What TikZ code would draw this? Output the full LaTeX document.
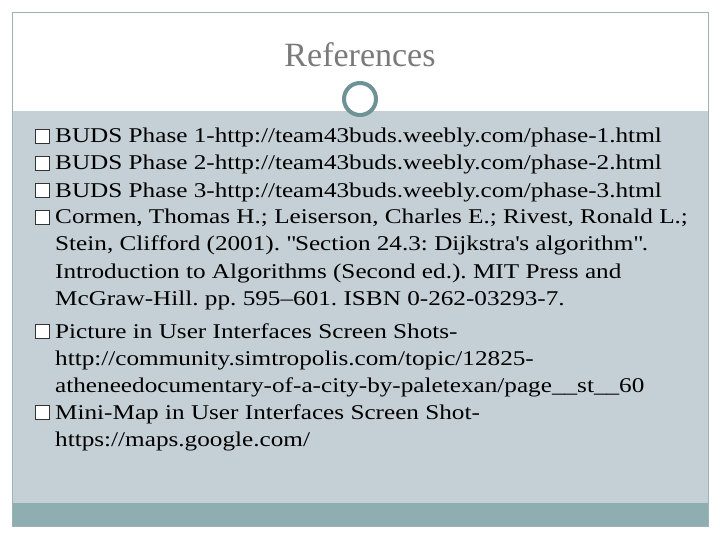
\documentclass[tikz,border=0pt]{standalone}
\usepackage{fontspec}
\setmainfont[FakeStretch=1.2]{Liberation Serif}
\newfontfamily\titlefont{Liberation Serif}
\definecolor{bodybg}{HTML}{C5D0D6}
\definecolor{barc}{HTML}{8EAEB2}
\definecolor{framec}{HTML}{9EB2B4}
\definecolor{ringc}{HTML}{6F9296}
\definecolor{titlec}{HTML}{7A7A7A}
\tikzset{ln/.style={anchor=base west,inner sep=0pt,font=\fontsize{21}{21}\selectfont\frenchspacing},
bul/.style={draw=black!80,line width=0.6pt,fill=white,minimum size=14pt,inner sep=0pt}}
\begin{document}
\begin{tikzpicture}[x=1pt,y=-1pt]
\useasboundingbox (0,0) rectangle (720,540);
\fill[white] (0,0) rectangle (720,540);
\fill[bodybg] (12,111) rectangle (708,503);
\fill[barc] (12,503) rectangle (708,526);
\draw[framec,line width=0.8pt] (12,12) rectangle (708,526);
\node[font=\titlefont\fontsize{34}{34}\selectfont,text=titlec] (t) at (360,55) {References};
\node[circle,draw=ringc,line width=4pt,fill=white,minimum size=32pt] (c) at (360,99) {};
\foreach \n/\y in {1/136,2/163,3/190,4/217,5/331,6/412}{\node[bul] (b\n) at (42,\y) {};}
\node[ln] (l1) at (55,143) {BUDS Phase 1-http://team43buds.weebly.com/phase-1.html};
\node[ln] (l2) at (55,170) {BUDS Phase 2-http://team43buds.weebly.com/phase-2.html};
\node[ln] (l3) at (55,197) {BUDS Phase 3-http://team43buds.weebly.com/phase-3.html};
\node[ln] (l4) at (55,224) {Cormen, Thomas H.; Leiserson, Charles E.; Rivest, Ronald L.;};
\node[ln] (l5) at (55,251) {Stein, Clifford (2001). \textquotedbl Section 24.3: Dijkstra\textquotesingle s algorithm\textquotedbl.};
\node[ln] (l6) at (55,278) {Introduction to Algorithms (Second ed.). MIT Press and};
\node[ln] (l7) at (55,305) {Mc{G}raw-Hill. pp. 595–601. ISBN 0-262-03293-7.};
\node[ln] (l8) at (55,338) {Picture in User Interfaces Screen Shots-};
\node[ln] (l9) at (55,365) {http://community.simtropolis.com/topic/12825-};
\node[ln] (l10) at (55,392) {atheneedocumentary-of-a-city-by-paletexan/page\_\_st\_\_60};
\node[ln] (l11) at (55,419) {Mini-Map in User Interfaces Screen Shot-};
\node[ln] (l12) at (55,446) {https://maps.google.com/};
\end{tikzpicture}
\end{document}
